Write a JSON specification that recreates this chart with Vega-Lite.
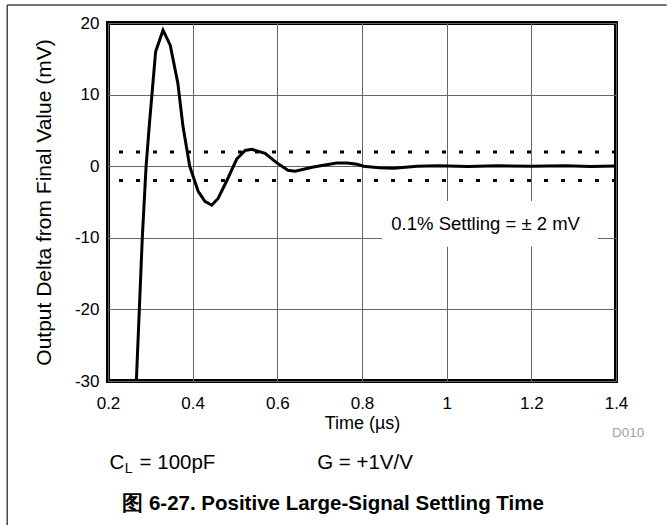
{
  "$schema": "https://vega.github.io/schema/vega-lite/v6.json",
  "width": 508,
  "height": 358,
  "autosize": "none",
  "padding": {"left": 108, "top": 23, "right": 51, "bottom": 144},
  "background": "white",
  "config": {
    "view": {"stroke": "black", "strokeWidth": 4},
    "font": "Liberation Sans"
  },
  "title": {
    "text": "图 6-27. Positive Large-Signal Settling Time",
    "orient": "bottom",
    "anchor": "middle",
    "frame": "bounds",
    "fontSize": 20.5,
    "fontWeight": "bold",
    "color": "black",
    "offset": -32,
    "dx": -4
  },
  "datasets": {
    "curve": [
      {"t": 0.267, "v": -30},
      {"t": 0.281, "v": -10},
      {"t": 0.29, "v": 0},
      {"t": 0.298, "v": 6},
      {"t": 0.3125, "v": 16},
      {"t": 0.33, "v": 19},
      {"t": 0.347, "v": 16.9},
      {"t": 0.365, "v": 11.6},
      {"t": 0.377, "v": 5.6},
      {"t": 0.393, "v": 0},
      {"t": 0.413, "v": -3.5},
      {"t": 0.429, "v": -4.9},
      {"t": 0.445, "v": -5.45},
      {"t": 0.46, "v": -4.5},
      {"t": 0.48, "v": -2.1},
      {"t": 0.504, "v": 1.0},
      {"t": 0.524, "v": 2.2},
      {"t": 0.54, "v": 2.35},
      {"t": 0.571, "v": 1.8},
      {"t": 0.599, "v": 0.46},
      {"t": 0.625, "v": -0.57},
      {"t": 0.642, "v": -0.7},
      {"t": 0.685, "v": -0.1},
      {"t": 0.74, "v": 0.45},
      {"t": 0.765, "v": 0.45},
      {"t": 0.788, "v": 0.27},
      {"t": 0.804, "v": 0},
      {"t": 0.84, "v": -0.2},
      {"t": 0.875, "v": -0.28},
      {"t": 0.93, "v": 0.0},
      {"t": 0.98, "v": 0.05},
      {"t": 1.05, "v": -0.05},
      {"t": 1.12, "v": 0.05},
      {"t": 1.2, "v": 0.0},
      {"t": 1.28, "v": 0.05},
      {"t": 1.34, "v": -0.03},
      {"t": 1.4, "v": 0.03}
    ],
    "limits": [{"level": 2}, {"level": -2}]
  },
  "layer": [
    {
      "data": {"name": "curve"},
      "mark": {"type": "line", "color": "black", "strokeWidth": 3, "clip": true},
      "encoding": {
        "x": {
          "field": "t", "type": "quantitative",
          "scale": {"domain": [0.2, 1.4], "nice": false, "zero": false},
          "axis": {
            "title": "Time (µs)",
            "values": [0.2, 0.4, 0.6, 0.8, 1, 1.2, 1.4],
            "labelExpr": "datum.value == 1 ? '1' : format(datum.value, '.1f')",
            "labelFlush": false,
            "ticks": false,
            "domain": false,
            "grid": true,
            "gridColor": "#666666",
            "gridWidth": 1,
            "gridOpacity": 1,
            "labelFontSize": 17,
            "labelColor": "black",
            "labelPadding": 14,
            "titleFontSize": 18,
            "titleFontWeight": "normal",
            "titleColor": "black",
            "titlePadding": 3
          }
        },
        "y": {
          "field": "v", "type": "quantitative",
          "scale": {"domain": [-30, 20], "nice": false, "zero": false},
          "axis": {
            "title": "Output Delta from Final Value (mV)",
            "values": [-30, -20, -10, 0, 10, 20],
            "labelExpr": "'' + datum.value",
            "labelFlush": false,
            "ticks": false,
            "domain": false,
            "grid": true,
            "gridColor": "#666666",
            "gridWidth": 1,
            "gridOpacity": 1,
            "labelFontSize": 17,
            "labelColor": "black",
            "labelPadding": 9,
            "titleFontSize": 21,
            "titleFontWeight": "normal",
            "titleColor": "black",
            "titlePadding": 20
          }
        }
      }
    },
    {
      "data": {"name": "limits"},
      "mark": {"type": "rule", "color": "black", "strokeWidth": 3, "strokeDash": [4, 13]},
      "encoding": {"y": {"field": "level", "type": "quantitative"}}
    },
    {
      "data": {"values": [{}]},
      "mark": {"type": "rect", "color": "white", "opacity": 1},
      "encoding": {
        "x": {"datum": 0.8474, "type": "quantitative"},
        "x2": {"datum": 1.357},
        "y": {"datum": -4.86, "type": "quantitative"},
        "y2": {"datum": -11.24}
      }
    },
    {
      "data": {"values": [{}]},
      "mark": {"type": "text", "text": "0.1% Settling = ± 2 mV", "fontSize": 18.5, "color": "black", "align": "center", "baseline": "middle"},
      "encoding": {
        "x": {"datum": 1.092, "type": "quantitative"},
        "y": {"datum": -8.11, "type": "quantitative"}
      }
    },
    {
      "data": {"values": [{}]},
      "mark": {"type": "text", "text": "D010", "fontSize": 13.5, "color": "#a0a0a0", "align": "center", "baseline": "middle", "clip": false},
      "encoding": {
        "x": {"datum": 1.4287, "type": "quantitative"},
        "y": {"datum": -37.26, "type": "quantitative"}
      }
    },
    {
      "data": {"values": [{}]},
      "mark": {"type": "text", "text": "C", "fontSize": 20.5, "color": "black", "align": "left", "baseline": "alphabetic"},
      "encoding": {
        "x": {"datum": 0.2036, "type": "quantitative"},
        "y": {"datum": -42.3, "type": "quantitative"}
      }
    },
    {
      "data": {"values": [{}]},
      "mark": {"type": "text", "text": "L", "fontSize": 14, "color": "black", "align": "left", "baseline": "alphabetic"},
      "encoding": {
        "x": {"datum": 0.2395, "type": "quantitative"},
        "y": {"datum": -42.85, "type": "quantitative"}
      }
    },
    {
      "data": {"values": [{}]},
      "mark": {"type": "text", "text": "= 100pF", "fontSize": 20.5, "color": "black", "align": "left", "baseline": "alphabetic"},
      "encoding": {
        "x": {"datum": 0.2746, "type": "quantitative"},
        "y": {"datum": -42.3, "type": "quantitative"}
      }
    },
    {
      "data": {"values": [{}]},
      "mark": {"type": "text", "text": "G = +1V/V", "fontSize": 20.5, "color": "black", "align": "left", "baseline": "alphabetic"},
      "encoding": {
        "x": {"datum": 0.694, "type": "quantitative"},
        "y": {"datum": -42.3, "type": "quantitative"}
      }
    },
    {
      "data": {"values": [{}]},
      "mark": {"type": "rule", "color": "#444444", "strokeWidth": 1.5},
      "encoding": {
        "x": {"datum": -0.038, "type": "quantitative"},
        "y": {"datum": 22.5, "type": "quantitative"},
        "y2": {"datum": -50.2}
      }
    },
    {
      "data": {"values": [{}]},
      "mark": {"type": "rule", "color": "#444444", "strokeWidth": 1.5},
      "encoding": {
        "x": {"datum": -0.038, "type": "quantitative"},
        "x2": {"datum": 1.52},
        "y": {"datum": 22.5, "type": "quantitative"}
      }
    }
  ]
}
